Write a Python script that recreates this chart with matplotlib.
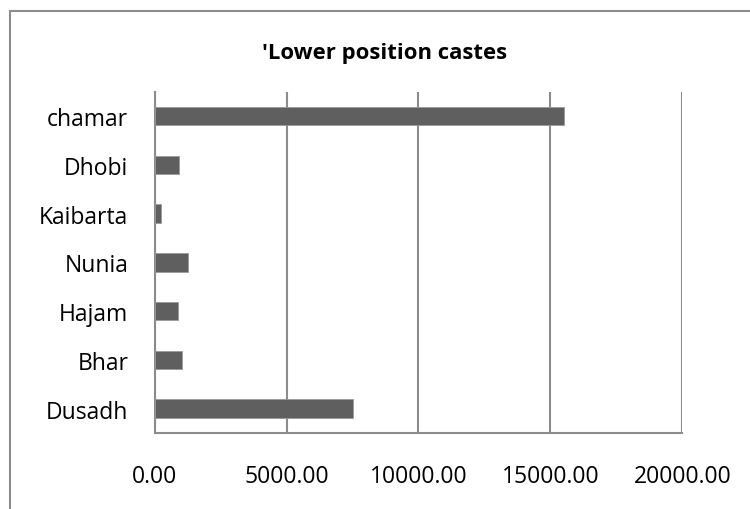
"""
Horizontal bar chart of lower position caste counts.
"""
import matplotlib

matplotlib.use("Agg")
import matplotlib.pyplot as plt
from matplotlib.patches import Rectangle
from matplotlib.ticker import FormatStrFormatter

# Data (top to bottom as drawn)
castes = ["chamar", "Dhobi", "Kaibarta", "Nunia", "Hajam", "Bhar", "Dusadh"]
counts = [15520, 935, 240, 1250, 895, 1045, 7530]
x_ticks = [0, 5000, 10000, 15000, 20000]
title = "'Lower position castes"

GRID = "#8c8c8c"
BAR = "#5f5f5f"

plt.rcParams["font.family"] = ["Open Sans", "DejaVu Sans"]

fig = plt.figure(figsize=(7.5, 5.1), dpi=100)
fig.patch.set_facecolor("white")

# outer chart-area border (clipped by the image edges on the right and bottom)
fig.patches.append(
    Rectangle((9.7 / 750, -0.1), 1.2, 1.1 - 11.7 / 510,
              transform=fig.transFigure, fill=False,
              edgecolor=GRID, linewidth=1.5, zorder=0)
)

ax = fig.add_axes([154.7 / 750, 1 - 434 / 510, (682.3 - 154.7) / 750, (434 - 92.7) / 510])

pos = list(range(len(castes)))[::-1]
ax.barh(pos, counts, height=0.38, color=BAR, edgecolor="#9a9a9a",
        linewidth=0.6, zorder=3)

ax.set_xlim(0, 20000)
ax.set_ylim(-0.5, len(castes) - 0.5)
ax.set_xticks(x_ticks)
ax.xaxis.set_major_formatter(FormatStrFormatter("%.2f"))
ax.set_yticks(pos)
ax.set_yticklabels(castes)

ax.grid(axis="x", color=GRID, linewidth=1.5, zorder=0)
ax.grid(axis="y", visible=False)
for side in ("top", "right"):
    ax.spines[side].set_visible(False)
for side in ("left", "bottom"):
    ax.spines[side].set_color(GRID)
    ax.spines[side].set_linewidth(1.5)

ax.tick_params(axis="x", length=0, pad=22, labelsize=16.5, labelcolor="black")
ax.tick_params(axis="y", length=0, pad=19, labelsize=16.5, labelcolor="black")

fig.text(385 / 750, 1 - 53 / 510, title, ha="center", va="center",
         fontsize=15.9, fontweight="bold")

fig.savefig("out.png", dpi=100)
